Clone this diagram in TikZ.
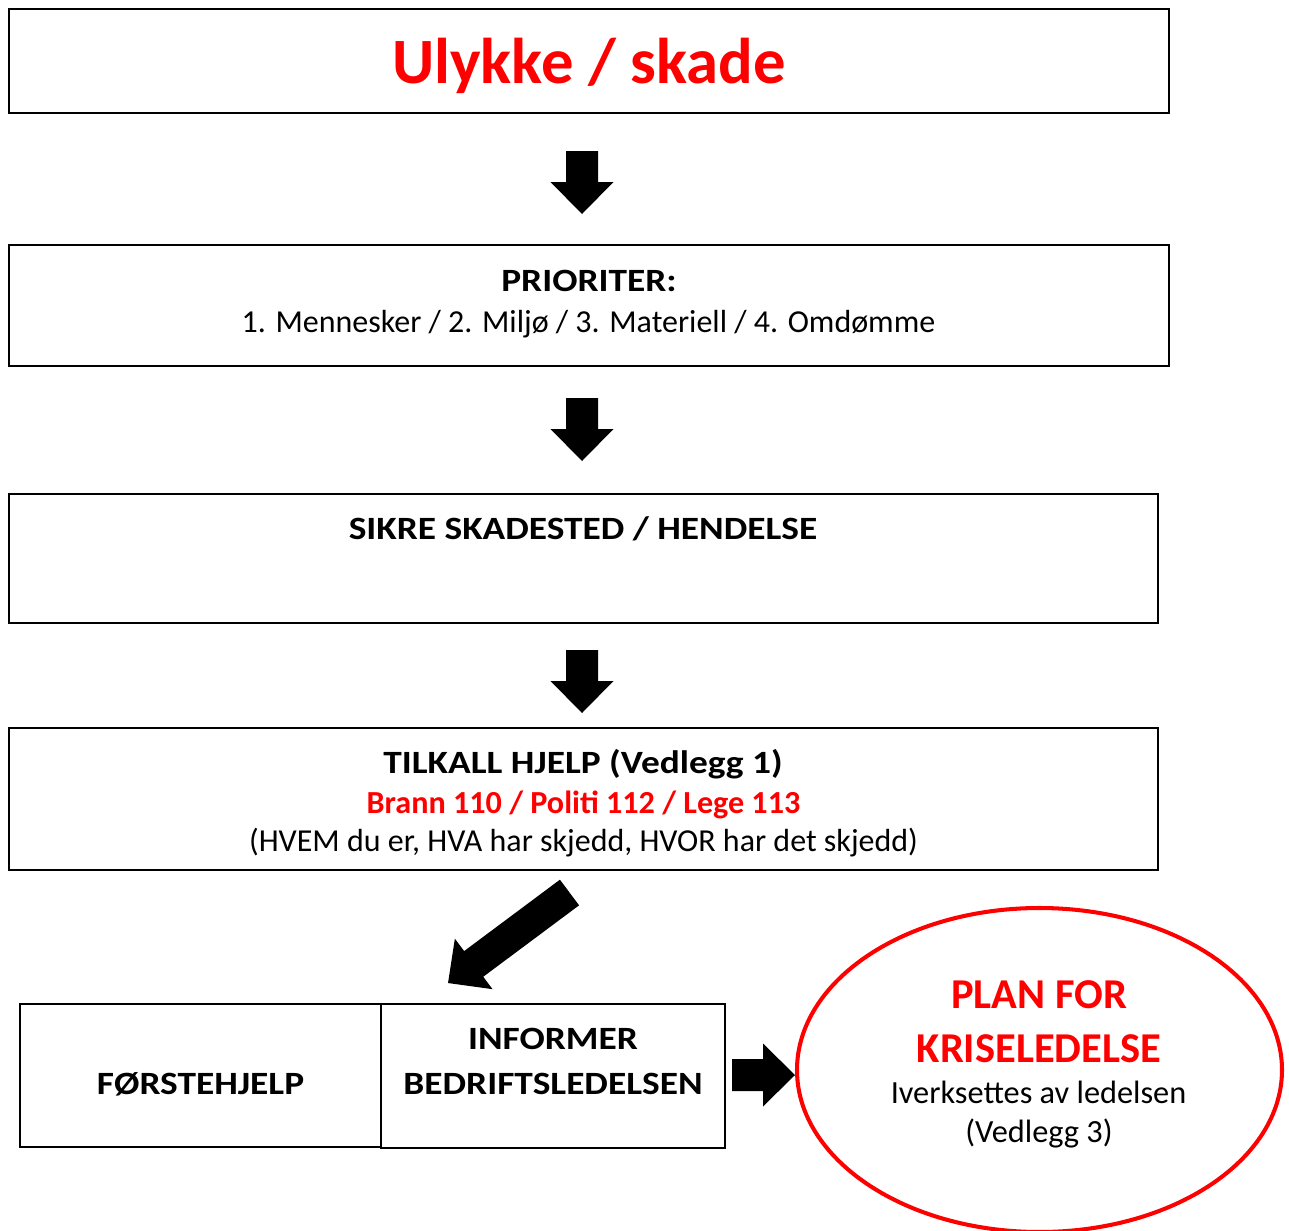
\documentclass[tikz,border=0pt]{standalone}
\usepackage{fontspec}
\setmainfont{Carlito}
\newfontfamily\widebf{Carlito}[FakeStretch=1.15]
\usetikzlibrary{positioning}

\tikzset{
  box/.style={line width=1.2pt},
  txt/.style={anchor=base,inner sep=0pt,font=\fontsize{18.2}{22}\selectfont},
  bold/.style={txt,font=\fontsize{18.5}{22}\widebf\bfseries},
  pics/fatarrow/.style={code={
    \fill (0,-16) -- (#1-32,-16) -- (#1-32,-31.5) -- (#1,0)
      -- (#1-32,31.5) -- (#1-32,16) -- (0,16) -- cycle;
  }}
}

\begin{document}
\begin{tikzpicture}[x=0.02cm,y=-0.02cm]
\useasboundingbox (0,0) rectangle (1289,1231);

% boxes
\draw[box] (9,9) rectangle (1169,113);
\draw[box] (9,245) rectangle (1169,366);
\draw[box] (9,494) rectangle (1158,623);
\draw[box] (9,728) rectangle (1158,870);
\draw[box] (20,1004) rectangle (381,1147);
\draw[box] (381,1004) rectangle (725,1148);
\draw[red,line width=2.3pt] (1039.5,1070) ellipse [x radius=242.5, y radius=162];

% texts
\node[anchor=base,inner sep=0pt,text=red,font=\fontsize{36.8}{44}\selectfont\bfseries] (ulykke) at (589,83) {Ulykke / skade};

\node[bold] (prior) at (589,291) {PRIORITER:};
\node[txt] (prior2) at (588.5,332) {1. Mennesker / 2. Milj\o{} / 3. Materiell / 4. Omd\o{}mme};

\node[bold] (sikre) at (583,539) {SIKRE SKADESTED / HENDELSE};

\node[bold] (tilkall) at (583,773) {TILKALL HJELP (Vedlegg 1)};
\node[txt,text=red,font=\fontsize{18.3}{22}\selectfont\bfseries] (nummer) at (583.5,813) {Brann 110 / Politi 112 / Lege 113};
\node[txt] (hvem) at (583.5,851) {(HVEM du er, HVA har skjedd, HVOR har det skjedd)};

\node[bold] (forste) at (200.5,1094) {F\O{}RSTEHJELP};
\node[bold] (informer) at (553,1049) {INFORMER};
\node[bold] (bedrift) at (553,1094) {BEDRIFTSLEDELSEN};

\node[anchor=base,inner sep=0pt,text=red,font=\fontsize{24.2}{28}\selectfont\bfseries] (plan) at (1039,1008) {PLAN FOR};
\node[anchor=base,inner sep=0pt,text=red,font=\fontsize{24.2}{28}\selectfont\bfseries] (krise) at (1039,1062) {KRISELEDELSE};
\node[anchor=base,inner sep=0pt,font=\fontsize{18.4}{22}\selectfont] (iverk) at (1038.5,1103) {Iverksettes av ledelsen};
\node[anchor=base,inner sep=0pt,font=\fontsize{18.4}{22}\selectfont] (vedlegg) at (1039,1142) {(Vedlegg 3)};

% arrows
\coordinate (a1) at (582,151);
\coordinate (a2) at (582,398);
\coordinate (a3) at (582,650);
\coordinate (a4) at (569.5,892.5);
\coordinate (a5) at (732,1075);
\pic[rotate=-90] at (a1) {fatarrow=63};
\pic[rotate=-90] at (a2) {fatarrow=63};
\pic[rotate=-90] at (a3) {fatarrow=63};
\pic[rotate=216.7] at (a4) {fatarrow=151.5};
\pic at (a5) {fatarrow=63};

\end{tikzpicture}
\end{document}
